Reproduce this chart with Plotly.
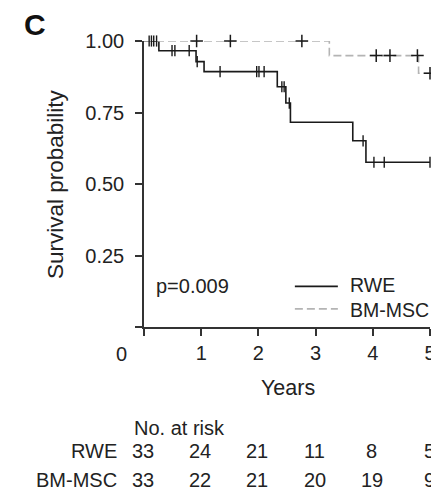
import plotly.graph_objects as go

# ---- data ----
rwe_times = [0, 0.26, 0.91, 1.05, 2.33, 2.48, 2.56, 3.65, 3.88, 5.0]
rwe_surv = [1.0, 0.966, 0.928, 0.893, 0.840, 0.783, 0.716, 0.651, 0.576, 0.576]
rwe_censor = [0.09, 0.13, 0.17, 0.22, 0.49, 0.54, 0.79, 0.93, 1.33, 1.97, 2.01, 2.10,
              2.41, 2.45, 2.54, 3.83, 4.02, 4.20, 5.0]

bm_times = [0, 3.24, 4.80, 5.0]
bm_surv = [1.0, 0.949, 0.887, 0.887]
bm_censor = [0.92, 1.51, 2.76, 4.06, 4.30, 4.78, 5.0]

series_names = ["RWE", "BM-MSC"]

risk_years = [0, 1, 2, 3, 4, 5]
risk_rwe = [33, 24, 21, 11, 8, 5]
risk_bm = [33, 22, 21, 20, 19, 9]

x_ticks = [0, 1, 2, 3, 4, 5]
x_ticktext = ["", "1", "2", "3", "4", "5"]
y_ticks = [0, 0.25, 0.5, 0.75, 1.0]
y_ticktext = ["", "0.25", "0.50", "0.75", "1.00"]
p_text = "p=0.009"


def step_at(times, surv, t):
    val = surv[0]
    for ti, si in zip(times, surv):
        if ti <= t:
            val = si
    return val


FONT = "Liberation Sans, Arial, Helvetica, sans-serif"
TXT = "#222222"
FS = 20

fig = go.Figure()

# legend keys come from the plotly legend; the names are written beside them as annotations
fig.add_trace(go.Scatter(x=rwe_times, y=rwe_surv, mode="lines", line_shape="hv",
                         line=dict(color="#1a1a1a", width=1.6), name="\u00a0",
                         cliponaxis=False))
fig.add_trace(go.Scatter(x=bm_times, y=bm_surv, mode="lines", line_shape="hv",
                         line=dict(color="#b4b4b4", width=1.6, dash="8px,4px"),
                         name="\u00a0\u00a0", cliponaxis=False))

fig.add_trace(go.Scatter(x=rwe_censor, y=[step_at(rwe_times, rwe_surv, t) for t in rwe_censor],
                         mode="markers", showlegend=False, cliponaxis=False,
                         marker=dict(symbol="line-ns", size=8, line=dict(color="#1a1a1a", width=1.4))))
fig.add_trace(go.Scatter(x=bm_censor, y=[step_at(bm_times, bm_surv, t - 0.03) for t in bm_censor],
                         mode="markers", showlegend=False, cliponaxis=False,
                         marker=dict(symbol="cross-thin", size=9, line=dict(color="#1a1a1a", width=1.5))))


def txt(text, x, y, xref="paper", xanchor="center", size=FS, **kw):
    return dict(text=text, x=x, y=y, xref=xref, yref="paper", xanchor=xanchor, yanchor="middle",
                showarrow=False, font=dict(size=size, color=kw.pop("color", TXT), family=FONT), **kw)


ann = []
ann.append(txt("<b>C</b>", -0.381, 1.058, size=30, color="#111"))
ann.append(txt("Survival probability", -0.311, 0.5, size=22.5, textangle=-90))
ann.append(txt("Years", 0.503, -0.213, size=21.5))
ann.append(txt("0", -0.077, -0.094))
ann.append(txt(p_text, 0.18, 0.143, xref="x", xanchor="left"))
ann.append(txt(series_names[0], 0.713, 0.147, xanchor="left", size=19.5))
ann.append(txt(series_names[1], 0.713, 0.059, xanchor="left", size=19.5))
ann.append(txt("No. at risk", -0.041, -0.353, xanchor="left"))
ann.append(txt(series_names[0], -0.087, -0.435, xanchor="right"))
ann.append(txt(series_names[1], -0.087, -0.535, xanchor="right"))
for yr, a, b in zip(risk_years, risk_rwe, risk_bm):
    ann.append(txt(str(a), yr, -0.435, xref="x", xshift=-1))
    ann.append(txt(str(b), yr, -0.535, xref="x", xshift=-1))

fig.update_layout(
    width=431, height=483,
    margin=dict(l=136, r=9, t=33, b=164),
    paper_bgcolor="white", plot_bgcolor="white",
    font=dict(family=FONT, size=FS, color=TXT),
    annotations=ann,
    showlegend=True,
    legend=dict(x=0.51, y=0.199, xanchor="left", yanchor="top", bgcolor="rgba(0,0,0,0)",
                font=dict(size=15, color=TXT, family=FONT), itemwidth=43, tracegroupgap=0),
    xaxis=dict(range=[0, 5], tickvals=x_ticks, ticktext=x_ticktext, showgrid=False, zeroline=False,
               showline=True, linecolor="#333", linewidth=1.5, ticks="outside", ticklen=7,
               tickwidth=1.5, tickcolor="#333", fixedrange=True, automargin=False),
    yaxis=dict(range=[0, 1], tickvals=y_ticks, ticktext=y_ticktext, showgrid=False, zeroline=False,
               showline=True, linecolor="#333", linewidth=1.5, ticks="outside", ticklen=7,
               tickwidth=1.5, tickcolor="#333", fixedrange=True, ticklabelstandoff=7,
               automargin=False),
)

fig.write_html("out.html")
